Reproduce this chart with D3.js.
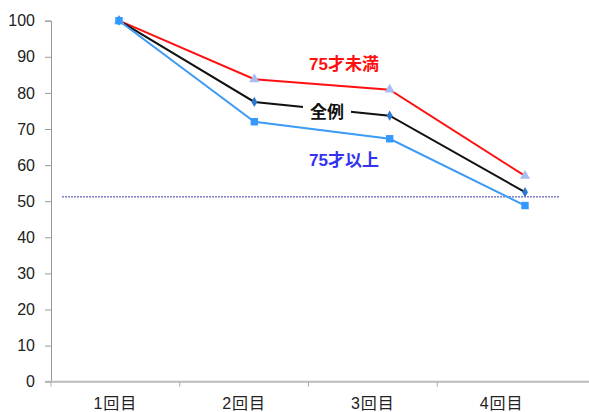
<!DOCTYPE html>
<html>
<head>
<meta charset="utf-8">
<script src="https://cdn.jsdelivr.net/npm/d3@7"></script>
<style>
  html, body { margin: 0; padding: 0; background: #fff; }
  svg { display: block; }
  text { font-family: "Liberation Sans", Arial, "Noto Sans CJK JP", sans-serif; }
</style>
</head>
<body>
<svg id="chart" width="589" height="412"></svg>
<script>
const categories = ["1回目", "2回目", "3回目", "4回目"];
const yTicks = [0, 10, 20, 30, 40, 50, 60, 70, 80, 90, 100];
const under75 = [100, 83.8, 80.9, 57.0];
const allCases = [100, 77.5, 73.7, 52.5];
const over75 = [100, 72.0, 67.3, 48.8];
const referenceLevel = 51.2;

(function () {
const svg = d3.select("#chart");
const W = 589;
const plotLeft = 51, plotTop = 20.7, plotBottom = 381.7, plotRight = 566;

const y = d3.scaleLinear().domain([0, 100]).range([plotBottom, plotTop]);
const xBand = d3.scaleBand().domain(categories).range([plotLeft, plotRight]);
const xPt = d3.scalePoint().domain(categories).range([119, 525]);

// y axis
const yAxis = d3.axisLeft(y).tickValues(yTicks).tickSize(6).tickPadding(10);
const gy = svg.append("g").attr("transform", `translate(${plotLeft},0)`).call(yAxis);
gy.select(".domain").attr("stroke", "#999").attr("stroke-width", 1);
gy.selectAll(".tick line").attr("stroke", "#999");
gy.selectAll(".tick text").attr("fill", "#222").style("font-size", "16px")
  .style("font-family", "'Liberation Sans', Arial, sans-serif");

// x axis
const gx = svg.append("g").attr("transform", `translate(0,${plotBottom})`);
gx.append("line").attr("x1", plotLeft - 6).attr("x2", W).attr("y1", 0).attr("y2", 0)
  .attr("stroke", "#bbb").attr("stroke-width", 2);
gx.selectAll("line.tk").data(categories).join("line").attr("class", "tk")
  .attr("x1", d => xBand(d)).attr("x2", d => xBand(d)).attr("y1", 0).attr("y2", 5)
  .attr("stroke", "#aaa");
gx.selectAll("text").data(categories).join("text")
  .attr("x", d => xBand(d) + xBand.bandwidth() / 2)
  .attr("y", 27)
  .attr("text-anchor", "middle")
  .attr("fill", "#222")
  .style("font-size", "16px")
  .style("letter-spacing", "1px")
  .style("font-family", "'Liberation Sans', 'Noto Sans CJK JP', sans-serif")
  .text(d => d);

// reference dashed line
svg.append("line")
  .attr("x1", 62).attr("x2", 560)
  .attr("y1", y(referenceLevel)).attr("y2", y(referenceLevel))
  .attr("stroke", "#3a3aa8").attr("stroke-width", 1).attr("stroke-dasharray", "2,1");

const line = d3.line().x((d, i) => xPt(categories[i])).y(d => y(d));

const series = [
  { vals: under75, color: "#ff1010", marker: "triangle", mcolor: "#a7bdf2" },
  { vals: allCases, color: "#111", marker: "diamond", mcolor: "#2b78d2" },
  { vals: over75, color: "#3d9bf5", marker: "square", mcolor: "#3399ff" }
];

series.forEach(s => {
  svg.append("path").datum(s.vals).attr("d", line)
    .attr("fill", "none").attr("stroke", s.color).attr("stroke-width", 2);
});

const symbolType = { triangle: d3.symbolTriangle, diamond: d3.symbolDiamond, square: d3.symbolSquare };
const symbolSize = { triangle: 45, diamond: 30, square: 55 };
series.forEach(s => {
  svg.append("g").selectAll("path").data(s.vals).join("path")
    .attr("transform", (d, i) => `translate(${xPt(categories[i])},${y(d)})`)
    .attr("d", d3.symbol().type(symbolType[s.marker]).size(symbolSize[s.marker]))
    .attr("fill", s.mcolor);
});

// series labels
const lbl = (txt, x, yy, color, bg) => {
  if (bg) {
    svg.append("rect").attr("x", x - 24).attr("y", yy - 17).attr("width", 48).attr("height", 23).attr("fill", "#fff");
  }
  svg.append("text").attr("x", x).attr("y", yy).attr("text-anchor", "middle")
    .attr("fill", color).style("font-size", "17px").style("font-weight", "bold")
    .style("font-family", "'Liberation Sans', 'Noto Sans CJK JP', sans-serif")
    .text(txt);
};
lbl("75才未満", 344, 70, "#ff1010", false);
lbl("全例", 327, 118, "#111", true);
lbl("75才以上", 344, 166, "#3333ee", false);
})();
</script>
</body>
</html>
